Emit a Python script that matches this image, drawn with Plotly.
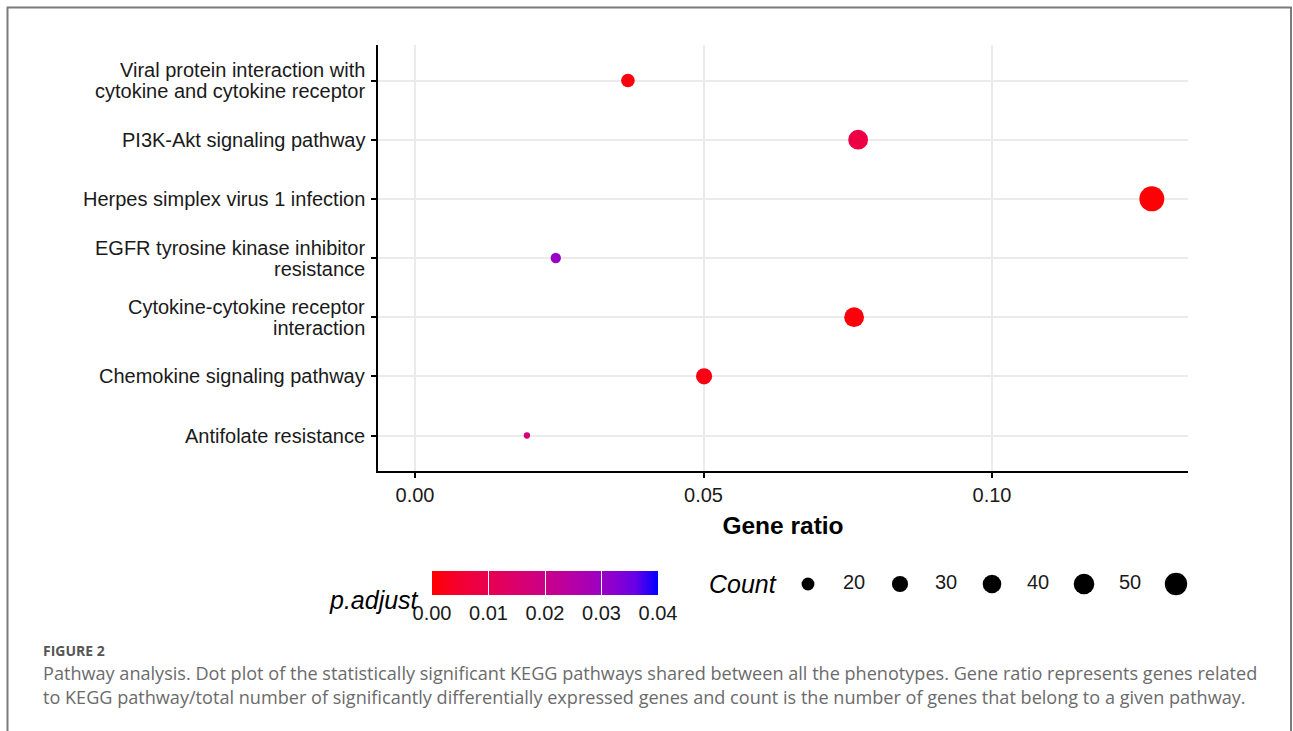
import math
import plotly.graph_objects as go

W, H = 1293, 731

# ---------------- data ----------------
pathways = [
    "Antifolate resistance",
    "Chemokine signaling pathway",
    "Cytokine-cytokine receptor<br>interaction",
    "EGFR tyrosine kinase inhibitor<br>resistance",
    "Herpes simplex virus 1 infection",
    "PI3K-Akt signaling pathway",
    "Viral protein interaction with<br>cytokine and cytokine receptor",
]
gene_ratio = [0.0194, 0.0501, 0.0761, 0.0244, 0.1277, 0.0768, 0.0369]
counts = [12, 30, 46, 15, 77, 46, 22]
p_adjust = [0.017, 0.002, 0.001, 0.030, 0.0005, 0.008, 0.0015]

x_ticks = [0.0, 0.05, 0.10]
x_tick_text = ["0.00", "0.05", "0.10"]
p_ticks = [0.0, 0.01, 0.02, 0.03, 0.04]
p_tick_text = ["0.00", "0.01", "0.02", "0.03", "0.04"]
count_breaks = [20, 30, 40, 50, 60]

caption_head = "FIGURE 2"
caption_lines = [
    "Pathway analysis. Dot plot of the statistically significant KEGG pathways shared between all the phenotypes. Gene ratio represents genes related",
    "to KEGG pathway/total number of significantly differentially expressed genes and count is the number of genes that belong to a given pathway.",
]

# ---------------- helpers ----------------
cmin_c, cmax_c = min(counts), max(counts)
D_MIN, D_MAX = 6.3, 25.0


def size_of(c):
    t = max(0.0, (c - cmin_c) / (cmax_c - cmin_c))
    return D_MIN + (D_MAX - D_MIN) * math.sqrt(t)


def srgb_to_lab(rgb):
    def lin(u):
        u = u / 255.0
        return u / 12.92 if u <= 0.04045 else ((u + 0.055) / 1.055) ** 2.4
    r, g, b = (lin(v) for v in rgb)
    X = 0.4124 * r + 0.3576 * g + 0.1805 * b
    Y = 0.2126 * r + 0.7152 * g + 0.0722 * b
    Z = 0.0193 * r + 0.1192 * g + 0.9505 * b
    X, Z = X / 0.95047, Z / 1.08883

    def f(t):
        return t ** (1 / 3) if t > 0.008856 else 7.787 * t + 16 / 116
    fx, fy, fz = f(X), f(Y), f(Z)
    return (116 * fy - 16, 500 * (fx - fy), 200 * (fy - fz))


def lab_to_hex(lab):
    L, a, b = lab
    fy = (L + 16) / 116
    fx = fy + a / 500
    fz = fy - b / 200

    def finv(t):
        return t ** 3 if t ** 3 > 0.008856 else (t - 16 / 116) / 7.787
    X, Y, Z = 0.95047 * finv(fx), finv(fy), 1.08883 * finv(fz)
    r = 3.2406 * X - 1.5372 * Y - 0.4986 * Z
    g = -0.9689 * X + 1.8758 * Y + 0.0415 * Z
    bb = 0.0557 * X - 0.2040 * Y + 1.0570 * Z

    def gam(u):
        u = min(max(u, 0.0), 1.0)
        v = 12.92 * u if u <= 0.0031308 else 1.055 * u ** (1 / 2.4) - 0.055
        return int(round(v * 255))
    return "#%02x%02x%02x" % (gam(r), gam(g), gam(bb))


lab_lo = srgb_to_lab((255, 0, 0))
lab_hi = srgb_to_lab((0, 0, 255))
colorscale = []
for i in range(11):
    t = i / 10
    lab = tuple(lab_lo[k] + (lab_hi[k] - lab_lo[k]) * t for k in range(3))
    colorscale.append([t, lab_to_hex(lab)])


def px_x(p):
    return p / W


def px_y(p):
    return 1 - p / H


FONT = "Liberation Sans, Arial, Helvetica, sans-serif"
TXT = "#1a1a1a"

fig = go.Figure()

# main dots
fig.add_trace(go.Scatter(
    x=gene_ratio, y=pathways, mode="markers",
    marker=dict(
        size=[size_of(c) for c in counts], opacity=1,
        color=p_adjust, colorscale=colorscale, cmin=0, cmax=0.04,
        line=dict(width=0),
        showscale=True,
        colorbar=dict(
            orientation="h", thickness=24, thicknessmode="pixels",
            len=226, lenmode="pixels",
            x=px_x(432), xanchor="left", y=px_y(648), yanchor="bottom",
            xpad=0, ypad=0, outlinewidth=0,
            tickvals=p_ticks, ticktext=p_tick_text,
            ticks="inside", ticklen=24, tickcolor="white", tickwidth=1,
            tickfont=dict(family=FONT, size=20, color=TXT),
        ),
    ),
    showlegend=False, hoverinfo="skip",
))

# size legend (on a helper axis)
slots = list(range(len(count_breaks)))
fig.add_trace(go.Scatter(
    x=slots, y=[0] * len(slots), xaxis="x2", yaxis="y2", mode="markers",
    marker=dict(size=[size_of(c) for c in count_breaks], color="black",
                opacity=1, line=dict(width=0)),
    showlegend=False, hoverinfo="skip", cliponaxis=False,
))
fig.add_trace(go.Scatter(
    x=[s + 0.5 for s in slots], y=[0] * len(slots), xaxis="x2", yaxis="y2", mode="text",
    text=[str(c) for c in count_breaks], textposition="middle center",
    textfont=dict(family=FONT, size=20, color=TXT),
    showlegend=False, hoverinfo="skip", cliponaxis=True,
))

x_left, x_right = 378, 1188
y_top, y_bot = 45, 471
x0_px, x_per = 415, 5770.0

annotations = []
# y category labels, one annotation per text line (tight line spacing)
LINE_GAP = 21
for name in pathways:
    parts = name.split("<br>")
    n = len(parts)
    for j, part in enumerate(parts):
        shift = ((n - 1) / 2 - j) * LINE_GAP
        annotations.append(dict(
            text=part, x=px_x(367), xref="paper", y=name, yref="y",
            xanchor="right", yanchor="middle", yshift=shift, showarrow=False,
            font=dict(family=FONT, size=20, color=TXT),
        ))

annotations += [
    dict(text="<i>p.adjust</i>", x=px_x(421), y=px_y(600), xref="paper", yref="paper",
         xanchor="right", yanchor="middle", showarrow=False,
         font=dict(family=FONT, size=25, color="black")),
    dict(text="<i>Count</i>", x=px_x(707), y=px_y(584), xref="paper", yref="paper",
         xanchor="left", yanchor="middle", showarrow=False,
         font=dict(family=FONT, size=25, color="black")),
    dict(text="<b>" + caption_head + "</b>", x=px_x(41), y=px_y(650), xref="paper", yref="paper",
         xanchor="left", yanchor="middle", showarrow=False,
         font=dict(family="Open Sans, sans-serif", size=14, color="#555555")),
    dict(text=caption_lines[0], x=px_x(41), y=px_y(673), xref="paper", yref="paper",
         xanchor="left", yanchor="middle", showarrow=False,
         font=dict(family="Open Sans, sans-serif", size=18.1, color="#6b6b6b")),
    dict(text=caption_lines[1], x=px_x(41), y=px_y(697), xref="paper", yref="paper",
         xanchor="left", yanchor="middle", showarrow=False,
         font=dict(family="Open Sans, sans-serif", size=18.1, color="#6b6b6b")),
]

fig.update_layout(
    width=W, height=H,
    margin=dict(l=0, r=0, t=0, b=0),
    paper_bgcolor="white", plot_bgcolor="white",
    font=dict(family=FONT, color="black"),
    xaxis=dict(
        domain=[px_x(x_left), px_x(x_right)],
        range=[(x_left - x0_px) / x_per, (x_right - x0_px) / x_per],
        tickvals=x_ticks, ticktext=x_tick_text,
        tickfont=dict(size=20, color=TXT),
        ticks="outside", ticklen=5, tickwidth=1.5, tickcolor="black",
        showline=True, linecolor="black", linewidth=2,
        showgrid=True, gridcolor="#ebebeb", gridwidth=2,
        zeroline=False,
        title=dict(text="<b>Gene ratio</b>", font=dict(size=24.5, color="black"), standoff=12),
        anchor="y",
    ),
    yaxis=dict(
        domain=[px_y(y_bot), px_y(y_top)],
        type="category", categoryorder="array", categoryarray=pathways,
        range=[-0.6, 6.6], showticklabels=False,
        ticks="outside", ticklen=5, tickwidth=1.5, tickcolor="black",
        showline=True, linecolor="black", linewidth=2,
        showgrid=True, gridcolor="#ebebeb", gridwidth=2,
        zeroline=False, anchor="x",
    ),
    xaxis2=dict(
        domain=[px_x(790), px_x(1213)],
        range=[(790 - 808) / 92.0, (1213 - 808) / 92.0],
        visible=False, anchor="y2", fixedrange=True,
    ),
    yaxis2=dict(
        domain=[px_y(604), px_y(564)],
        range=[-1, 1], visible=False, anchor="x2", fixedrange=True,
    ),
    shapes=[dict(
        type="rect", xref="paper", yref="paper",
        x0=px_x(7.5), x1=px_x(1291), y0=-0.05, y1=px_y(7.5),
        line=dict(color="#7a7a7a", width=2), fillcolor="rgba(0,0,0,0)", layer="below",
    )],
    annotations=annotations,
)

fig.write_html(
    "out.html",
    config={"displayModeBar": False},
    post_script="document.body.style.margin='0';document.body.style.overflow='hidden';",
)
